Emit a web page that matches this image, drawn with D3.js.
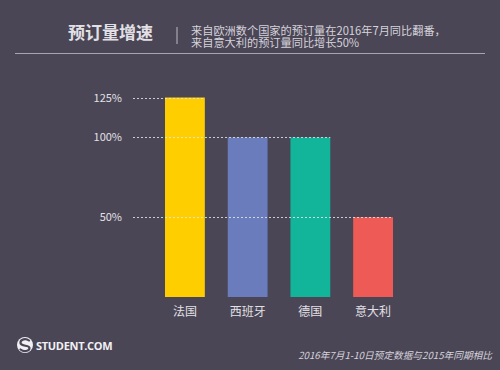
<!DOCTYPE html>
<html><head><meta charset="utf-8">
<script src="https://cdn.jsdelivr.net/npm/d3@7"></script>
<style>html,body{margin:0;padding:0;background:#4a4655;}svg{display:block;}</style>
</head><body>
<script>
const categories = ["法国", "西班牙", "德国", "意大利"];
const values = [125, 100, 100, 50];
const colors = ["#FFCE00", "#6B7CBC", "#12B49A", "#EE5A55"];
const tickValues = [125, 100, 50];
const tickLabels = ["125%", "100%", "50%"];
const title = "预订量增速";
const subtitle = ["来自欧洲数个国家的预订量在2016年7月同比翻番，", "来自意大利的预订量同比增长50%"];
const footnote = "2016年7月1-10日预定数据与2015年同期相比";
const brand = "STUDENT.COM";

const W = 500, H = 370;
const font = "'Noto Sans CJK SC', 'Noto Sans', sans-serif";
const svg = d3.select("body").append("svg").attr("width", W).attr("height", H);
svg.append("rect").attr("width", W).attr("height", H).attr("fill", "#4a4655");

// Header
svg.append("text").attr("x", 68).attr("y", 39).attr("fill", "#e2e0e6")
  .attr("font-family", font).attr("font-size", 17).attr("font-weight", "bold").text(title);
svg.append("line").attr("x1", 177).attr("x2", 177).attr("y1", 27).attr("y2", 44)
  .attr("stroke", "#bdbac3").attr("stroke-width", 1);
const sub = svg.append("text").attr("fill", "#d6d3dc")
  .attr("font-family", font).attr("font-size", 11.2);
subtitle.forEach((s, i) => {
  sub.append("tspan").attr("x", 191).attr("y", 34.5 + i * 12.5).text(s);
});
svg.append("line").attr("x1", 15).attr("x2", 485).attr("y1", 53.5).attr("y2", 53.5)
  .attr("stroke", "#a9a5b0").attr("stroke-width", 1);

// Scales
const x = d3.scaleBand().domain(categories).range([165, 393]).paddingInner(0.365).paddingOuter(0);
const y = d3.scaleLinear().domain([0, 125]).range([297, 97.5]);

// Bars
svg.append("g").selectAll("rect").data(categories).join("rect")
  .attr("x", d => x(d)).attr("width", x.bandwidth())
  .attr("y", (d, i) => y(values[i])).attr("height", (d, i) => y(0) - y(values[i]))
  .attr("fill", (d, i) => colors[i]);

// Dashed reference lines: extend to the right edge of the last bar reaching that value
const gl = svg.append("g");
tickValues.forEach((v, i) => {
  let lastIdx = 0;
  values.forEach((val, j) => { if (val >= v) lastIdx = j; });
  const xEnd = x(categories[lastIdx]) + x.bandwidth();
  gl.append("line").attr("x1", 133).attr("x2", xEnd)
    .attr("y1", Math.round(y(v)) + 0.5).attr("y2", Math.round(y(v)) + 0.5)
    .attr("stroke", "#e6e4ea").attr("stroke-width", 1).attr("stroke-dasharray", "2,2")
    .attr("opacity", 0.85);
  gl.append("text").attr("x", 122).attr("y", y(v) + 4).attr("text-anchor", "end")
    .attr("fill", "#e2e0e6").attr("font-family", font).attr("font-size", 11).text(tickLabels[i]);
});

// Category labels (axis)
const xAxis = d3.axisBottom(x).tickSize(0).tickPadding(10);
const ax = svg.append("g").attr("transform", `translate(0,${y(0)})`).call(xAxis);
ax.select(".domain").remove();
ax.selectAll("text").attr("fill", "#e2e0e6").attr("font-family", font).attr("font-size", 12);

// Brand logo
const lg = svg.append("g").attr("transform", "translate(25,345)");
lg.append("circle").attr("r", 8).attr("fill", "#f2f0f4");
lg.append("path").attr("d", "M4,-4.5 C1,-7 -5,-6 -4.5,-2 C-4,1.5 4.5,0 4.5,3 C4.5,6.5 -1.5,7 -4.5,4.5")
  .attr("fill", "none").attr("stroke", "#4a4655").attr("stroke-width", 2.2).attr("stroke-linecap", "round");
svg.append("text").attr("x", 36).attr("y", 349.5).attr("fill", "#f2f0f4")
  .attr("font-family", "'Open Sans', 'DejaVu Sans', sans-serif").attr("font-size", 11)
  .attr("font-weight", "bold").attr("letter-spacing", -0.3).text(brand);

// Footnote
svg.append("text").attr("x", 492).attr("y", 359).attr("text-anchor", "end")
  .attr("fill", "#d6d3dc").attr("font-family", font).attr("font-size", 9.7)
  .attr("font-style", "italic").text(footnote);
</script>
</body></html>
